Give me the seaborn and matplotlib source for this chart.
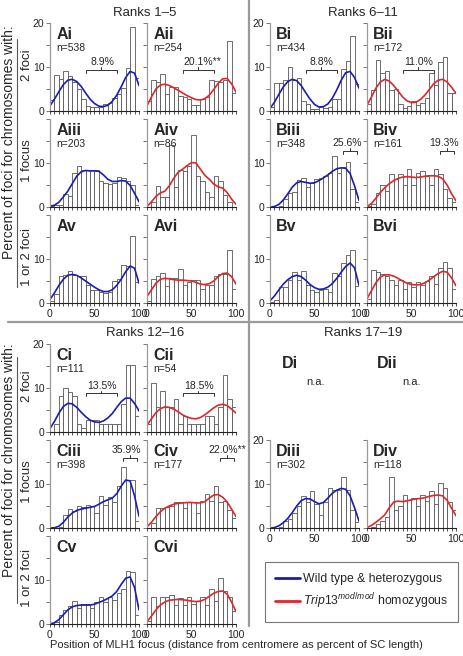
import numpy as np
import pandas as pd
import matplotlib
matplotlib.use("Agg")
import matplotlib.pyplot as plt
from matplotlib.lines import Line2D
import seaborn as sns

sns.set_style("ticks")
plt.rcParams['font.family'] = ['Liberation Sans', 'DejaVu Sans']
plt.rcParams['mathtext.fontset'] = 'custom'
plt.rcParams['mathtext.rm'] = 'Liberation Sans'
plt.rcParams['mathtext.it'] = 'Liberation Sans:italic'

# 5% bins along the SC, curve read every 5%
bin_mids = np.arange(2.5, 100, 5)
curve_x = np.arange(0, 101, 5)

# ---- Ranks 1-5 ----
ai_bars = [2.6, 8.1, 7.3, 9.0, 7.9, 6.5, 5.0, 2.8, 1.2, 0.9, 0.8, 1.0, 1.5, 1.8, 3.0, 3.8, 5.2, 9.7, 19.2, 7.4]
ai_curve = [1.2, 2.7, 4.4, 6.0, 7.0, 7.2, 6.7, 5.6, 4.1, 2.7, 1.7, 1.1, 1.0, 1.3, 2.2, 3.6, 5.5, 7.6, 9.0, 8.6, 5.8]
aii_bars = [2.3, 7.0, 6.7, 8.3, 3.8, 5.5, 5.4, 3.3, 3.2, 2.8, 1.3, 1.4, 2.7, 3.2, 7.0, 6.9, 6.6, 7.0, 15.8, 4.2]
aii_curve = [1.2, 3.2, 5.0, 5.9, 6.1, 5.8, 5.3, 4.7, 4.1, 3.5, 3.0, 2.6, 2.5, 2.8, 3.6, 4.9, 6.3, 7.3, 7.4, 6.2, 4.3]
aiii_bars = [0.3, 0.4, 0.5, 2.9, 2.5, 7.8, 9.4, 8.3, 8.3, 8.3, 8.5, 6.0, 5.5, 5.2, 5.5, 6.9, 6.6, 5.9, 5.0, 0.5]
aiii_curve = [0.2, 0.4, 1.1, 2.3, 3.6, 5.3, 7.0, 8.0, 8.3, 8.2, 8.2, 8.1, 7.3, 6.3, 5.8, 5.8, 6.0, 5.9, 4.9, 3.1, 1.2]
aiv_bars = [0.0, 1.1, 4.7, 2.2, 2.2, 14.0, 4.5, 8.3, 8.2, 9.4, 16.4, 7.0, 5.8, 3.4, 2.2, 7.0, 5.8, 2.8, 1.2, 0.1]
aiv_curve = [0.1, 1.2, 2.4, 3.2, 3.6, 4.8, 6.5, 7.9, 8.6, 9.4, 10.1, 10.0, 8.6, 7.2, 6.3, 5.2, 4.6, 4.3, 3.3, 1.8, 0.6]
av_bars = [0.5, 2.1, 6.2, 6.4, 7.3, 6.4, 6.2, 6.2, 4.2, 3.0, 3.0, 2.4, 2.3, 2.6, 4.9, 5.5, 8.7, 8.5, 15.3, 4.7]
av_curve = [0.8, 2.3, 4.0, 5.4, 6.3, 6.5, 6.3, 5.7, 5.0, 4.3, 3.6, 3.0, 2.6, 2.6, 3.0, 4.0, 5.4, 7.1, 8.4, 7.9, 4.5]
avi_bars = [0.4, 5.5, 6.2, 6.8, 3.8, 5.7, 5.7, 7.8, 4.2, 4.7, 5.2, 5.3, 3.2, 4.2, 4.2, 6.2, 6.7, 6.7, 12.1, 3.2]
avi_curve = [1.5, 3.0, 4.5, 5.4, 5.6, 5.5, 5.3, 5.2, 5.2, 5.1, 5.0, 4.7, 4.3, 4.2, 4.4, 5.0, 6.0, 6.7, 6.8, 6.0, 4.3]

# ---- Ranks 6-11 ----
bi_bars = [1.0, 6.4, 6.4, 7.0, 9.9, 7.0, 7.6, 2.3, 1.7, 0.5, 0.5, 0.9, 0.7, 0.8, 2.7, 2.7, 9.5, 11.3, 17.0, 6.2]
bi_curve = [0.6, 2.0, 3.8, 5.5, 6.7, 7.2, 6.9, 5.8, 4.2, 2.7, 1.5, 0.9, 1.0, 1.6, 2.9, 4.8, 7.0, 8.7, 9.0, 7.6, 5.2]
bii_bars = [1.7, 4.7, 11.7, 8.6, 9.1, 4.8, 5.1, 1.7, 0.6, 1.2, 2.2, 1.4, 1.8, 2.9, 8.6, 5.8, 11.1, 12.2, 4.2, 4.2]
bii_curve = [1.3, 3.2, 5.2, 6.6, 7.2, 6.8, 5.8, 4.5, 3.2, 2.3, 1.9, 2.0, 2.6, 3.6, 4.9, 6.2, 7.0, 7.2, 6.6, 5.4, 4.0]
biii_bars = [0.0, 0.0, 0.3, 1.9, 3.1, 3.4, 6.2, 6.5, 4.6, 5.4, 6.4, 6.6, 7.0, 7.8, 11.7, 7.7, 9.1, 10.3, 4.2, 1.2]
biii_curve = [0.0, 0.1, 0.6, 1.6, 3.0, 4.5, 5.5, 5.8, 5.6, 5.4, 5.5, 6.0, 6.6, 7.3, 8.1, 8.7, 8.9, 8.8, 7.6, 4.8, 1.5]
biv_bars = [0.2, 0.6, 3.1, 4.9, 3.6, 7.5, 6.4, 7.5, 5.1, 8.7, 4.9, 7.7, 8.1, 7.0, 5.1, 8.7, 7.5, 4.0, 2.0, 1.2]
biv_curve = [0.1, 0.8, 2.0, 3.3, 4.4, 5.3, 6.0, 6.5, 6.8, 6.9, 6.8, 6.7, 6.8, 7.0, 7.1, 7.1, 7.0, 6.4, 5.0, 3.0, 1.4]
bv_bars = [0.2, 0.6, 3.6, 3.6, 5.3, 7.0, 5.3, 7.2, 4.2, 3.0, 2.4, 3.0, 3.2, 2.4, 6.8, 6.2, 9.2, 10.8, 12.1, 3.9]
bv_curve = [0.5, 1.6, 3.0, 4.3, 5.3, 6.0, 6.3, 6.0, 5.2, 4.2, 3.5, 3.1, 3.2, 3.6, 4.4, 5.6, 7.0, 8.3, 9.1, 8.0, 4.0]
bvi_bars = [0.9, 7.6, 7.0, 6.7, 6.1, 5.2, 4.2, 5.2, 3.2, 4.7, 3.6, 4.7, 4.2, 5.0, 6.2, 4.3, 8.0, 9.3, 7.9, 3.2]
bvi_curve = [1.0, 2.8, 4.6, 5.9, 6.4, 6.4, 6.1, 5.6, 5.0, 4.5, 4.2, 4.1, 4.2, 4.6, 5.2, 6.0, 6.7, 7.2, 7.0, 5.7, 3.9]

# ---- Ranks 12-16 ----
ci_bars = [0.0, 1.8, 8.1, 9.9, 9.0, 8.1, 1.8, 0.9, 2.7, 2.7, 2.7, 1.8, 1.8, 1.8, 1.8, 1.8, 6.3, 15.3, 15.3, 3.6]
ci_curve = [0.8, 2.4, 4.3, 5.8, 6.5, 6.4, 5.6, 4.5, 3.5, 2.7, 2.3, 2.2, 2.5, 3.2, 4.2, 5.6, 6.9, 7.7, 7.7, 6.5, 4.8]
cii_bars = [1.8, 11.1, 5.6, 9.3, 5.6, 5.6, 7.4, 1.8, 3.7, 1.8, 1.8, 1.8, 1.8, 3.7, 3.7, 1.8, 5.6, 13.0, 7.4, 5.6]
cii_curve = [1.5, 3.0, 4.4, 5.3, 5.7, 5.6, 5.2, 4.6, 3.9, 3.4, 3.1, 3.0, 3.3, 3.9, 4.7, 5.5, 6.1, 6.3, 6.0, 5.2, 4.3]
ciii_bars = [0.0, 0.0, 0.3, 3.0, 4.4, 3.8, 5.0, 4.8, 5.2, 5.0, 3.4, 7.3, 5.2, 7.0, 6.0, 9.5, 13.8, 11.0, 11.0, 1.5]
ciii_curve = [0.0, 0.05, 0.4, 1.3, 2.5, 3.4, 4.0, 4.3, 4.5, 4.7, 4.9, 5.4, 6.0, 6.4, 6.8, 7.8, 9.5, 10.9, 10.7, 7.3, 2.7]
civ_bars = [0.0, 1.1, 4.5, 4.5, 4.8, 5.0, 6.0, 6.0, 4.5, 6.0, 6.0, 3.3, 6.2, 7.7, 6.1, 9.5, 6.0, 6.1, 4.0, 2.2]
civ_curve = [0.3, 1.3, 2.6, 3.7, 4.5, 5.0, 5.4, 5.6, 5.7, 5.8, 5.8, 5.7, 5.7, 6.0, 6.8, 7.5, 7.6, 7.0, 5.9, 4.3, 2.6]
cv_bars = [0.1, 0.4, 2.1, 3.2, 4.1, 5.3, 3.6, 4.6, 4.6, 3.6, 5.0, 6.1, 4.9, 6.1, 5.5, 7.0, 8.0, 12.1, 11.9, 2.1]
cv_curve = [0.0, 0.3, 1.0, 2.1, 3.2, 3.9, 4.2, 4.3, 4.3, 4.3, 4.5, 4.9, 5.3, 5.8, 6.4, 7.4, 9.0, 10.4, 10.7, 8.3, 3.2]
cvi_bars = [0.6, 6.1, 4.0, 6.1, 6.1, 6.6, 4.4, 5.9, 4.4, 6.1, 4.6, 5.3, 6.1, 4.4, 7.9, 5.3, 10.4, 7.4, 6.1, 3.0]
cvi_curve = [0.5, 1.8, 3.2, 4.3, 5.0, 5.4, 5.5, 5.6, 5.5, 5.4, 5.2, 5.1, 5.2, 5.6, 6.3, 7.0, 7.4, 7.5, 6.8, 5.0, 2.8]

# ---- Ranks 17-19 ----
diii_bars = [0.0, 0.0, 0.3, 1.7, 2.0, 3.4, 4.9, 7.2, 6.0, 8.5, 5.4, 3.0, 5.9, 9.2, 8.6, 8.6, 11.5, 8.6, 4.2, 1.3]
diii_curve = [0.0, 0.1, 0.5, 1.2, 2.2, 3.5, 5.0, 6.2, 6.7, 6.6, 6.0, 5.5, 5.8, 6.8, 7.9, 8.6, 9.0, 8.8, 7.3, 4.6, 1.6]
div_bars = [0.0, 0.3, 0.8, 1.7, 2.5, 11.7, 4.2, 5.1, 7.4, 6.3, 6.8, 5.1, 7.4, 6.1, 8.4, 5.4, 10.2, 9.2, 6.0, 4.0]
div_curve = [0.1, 0.6, 1.3, 2.1, 3.0, 4.6, 5.9, 6.1, 6.0, 6.2, 6.4, 6.6, 6.7, 6.9, 7.2, 7.4, 7.5, 7.3, 6.3, 4.5, 2.8]

BLUE = '#1c1cb4'
RED = '#e0262a'
W, H = 464, 656

fig = plt.figure(figsize=(W / 100, H / 100), dpi=100)


def fx(px):
    return px / W


def fy(px):
    return 1 - px / H


def draw_panel(x0, y0, bars, curve, color, label, n=None, bracket=None,
               ylab=None, xlab=False):
    """x0: left edge px, y0: px of the zero line."""
    ax = fig.add_axes([fx(x0), fy(y0), 89 / W, 88 / H])
    hist_df = pd.DataFrame({'pos': bin_mids, 'pct': bars})
    curve_df = pd.DataFrame({'pos': curve_x, 'pct': curve})
    sns.histplot(data=hist_df, x='pos', weights='pct', binwidth=5, binrange=(0, 100),
                 stat='count', color='white', edgecolor='#555555', linewidth=0.6,
                 alpha=1, ax=ax)
    sns.lineplot(data=curve_df, x='pos', y='pct', color=color, linewidth=1.2, ax=ax)
    ax.set_xlim(0, 100)
    ax.set_ylim(0, 20)
    ax.set_xlabel('')
    ax.set_ylabel('')
    sns.despine(ax=ax)
    ax.spines['left'].set_color('#9a9a9a')
    ax.spines['left'].set_linewidth(0.9)
    ax.spines['bottom'].set_color('#222222')
    ax.spines['bottom'].set_linewidth(0.8)

    ax.set_yticks([0, 5, 10, 15, 20])
    ax.set_yticklabels(ylab if ylab else [''] * 5)
    ax.set_xticks(np.arange(0, 101, 5))
    ax.set_xticklabels(['0' if t == 0 else '50' if t == 50 else '100' if t == 100 else ''
                        for t in range(0, 101, 5)] if xlab else [''] * 21)
    ax.tick_params(axis='y', length=3, width=0.7, color='#777777', pad=1,
                   labelsize=7.5, labelcolor='#222222')
    ax.tick_params(axis='x', length=2.5, width=0.6, color='#333333', pad=1.5,
                   labelsize=7.5, labelcolor='#222222')

    ax.text(0.07, 0.95, label, transform=ax.transAxes, fontsize=11.5,
            fontweight='bold', va='top', ha='left')
    if n is not None:
        ax.text(0.07, 0.77, n, transform=ax.transAxes, fontsize=7.5,
                va='top', ha='left')
    if bracket is not None:
        b0, b1, by, btxt, tx = bracket
        ax.plot([b0, b0, b1, b1], [by - 0.7, by, by, by - 0.7], color='#333333',
                lw=0.7, clip_on=False)
        ax.plot([(b0 + b1) / 2] * 2, [by, by + 0.6], color='#333333', lw=0.7,
                clip_on=False)
        ax.text(tx, by + 0.5, btxt, fontsize=7.5, ha='center', va='bottom',
                clip_on=False)
    return ax


top_lab = ['0', '', '10', '', '20']
mid_lab = ['0', '', '10', '', '']

AL, AR, BL, BR = 50, 147, 270, 367
R1, R2, R3 = 111, 207, 303
S1, S2, S3 = 432, 528, 624

draw_panel(AL, R1, ai_bars, ai_curve, BLUE, 'Ai', 'n=538', (40, 75, 9.4, '8.9%', 59), top_lab)
draw_panel(AR, R1, aii_bars, aii_curve, RED, 'Aii', 'n=254', (40, 75, 9.4, '20.1%**', 62))
draw_panel(AL, R2, aiii_bars, aiii_curve, BLUE, 'Aiii', 'n=203', None, mid_lab)
draw_panel(AR, R2, aiv_bars, aiv_curve, RED, 'Aiv', 'n=86')
draw_panel(AL, R3, av_bars, av_curve, BLUE, 'Av', None, None, mid_lab, True)
draw_panel(AR, R3, avi_bars, avi_curve, RED, 'Avi', None, None, None, True)

draw_panel(BL, R1, bi_bars, bi_curve, BLUE, 'Bi', 'n=434', (40, 75, 9.4, '8.8%', 58), top_lab)
draw_panel(BR, R1, bii_bars, bii_curve, RED, 'Bii', 'n=172', (40, 75, 9.4, '11.0%', 58))
draw_panel(BL, R2, biii_bars, biii_curve, BLUE, 'Biii', 'n=348', (82, 98, 12.8, '25.6%', 87), mid_lab)
draw_panel(BR, R2, biv_bars, biv_curve, RED, 'Biv', 'n=161', (82, 98, 12.8, '19.3%', 87))
draw_panel(BL, R3, bv_bars, bv_curve, BLUE, 'Bv', None, None, mid_lab, True)
draw_panel(BR, R3, bvi_bars, bvi_curve, RED, 'Bvi', None, None, None, True)

draw_panel(AL, S1, ci_bars, ci_curve, BLUE, 'Ci', 'n=111', (40, 75, 8.8, '13.5%', 58), top_lab)
draw_panel(AR, S1, cii_bars, cii_curve, RED, 'Cii', 'n=54', (40, 75, 8.8, '18.5%', 58))
draw_panel(AL, S2, ciii_bars, ciii_curve, BLUE, 'Ciii', 'n=398', (82, 98, 16.0, '35.9%', 86), mid_lab)
draw_panel(AR, S2, civ_bars, civ_curve, RED, 'Civ', 'n=177', (82, 98, 16.0, '22.0%**', 90))
draw_panel(AL, S3, cv_bars, cv_curve, BLUE, 'Cv', None, None, mid_lab, True)
draw_panel(AR, S3, cvi_bars, cvi_curve, RED, 'Cvi', None, None, None, True)

draw_panel(BL, S2, diii_bars, diii_curve, BLUE, 'Diii', 'n=302', None, top_lab, True)
draw_panel(BR, S2, div_bars, div_curve, RED, 'Div', 'n=118', None, None, True)

# Di / Dii have no data
for lx, nx, lab in [(282, 316, 'Di'), (377, 412, 'Dii')]:
    fig.text(fx(lx), fy(356), lab, fontsize=11.5, fontweight='bold', va='top', ha='left')
    fig.text(fx(nx), fy(382), 'n.a.', fontsize=8, va='center', ha='center')

# group titles
fig.text(fx(145), fy(13), 'Ranks 1\u20135', fontsize=9.5, ha='center', va='center')
fig.text(fx(363), fy(13), 'Ranks 6\u201311', fontsize=9.5, ha='center', va='center')
fig.text(fx(145), fy(333), 'Ranks 12\u201316', fontsize=9.5, ha='center', va='center')
fig.text(fx(363), fy(333), 'Ranks 17\u201319', fontsize=9.5, ha='center', va='center')

# dividers
fig.add_artist(Line2D([fx(249)] * 2, [1, fy(626)], color='#9a9a9a', lw=1.6))
fig.add_artist(Line2D([fx(8), 1], [fy(322)] * 2, color='#9a9a9a', lw=1.6))

# y labels
for yc, ya, yb, rows in [(142, 39, 287, (R1, R2, R3)), (460, 357, 603, (S1, S2, S3))]:
    fig.text(fx(9), fy(yc), 'Percent of foci for chromosomes with:', rotation=90,
             fontsize=10, ha='center', va='center')
    fig.add_artist(Line2D([fx(17)] * 2, [fy(ya), fy(yb)], color='#555555', lw=0.8))
    for r, txt in zip(rows, ['2 foci', '1 focus', '1 or 2 foci']):
        fig.text(fx(27), fy(r - 46), txt, rotation=90, fontsize=9.5,
                 ha='center', va='center')

fig.text(fx(236), fy(645), 'Position of MLH1 focus (distance from centromere as percent of SC length)',
         fontsize=8, ha='center', va='center')

handles = [Line2D([], [], color=BLUE, lw=2), Line2D([], [], color=RED, lw=2)]
labels = ['Wild type & heterozygous', r'$\it{Trip13}^{\it{mod/mod}}$ homozygous']
leg = fig.legend(handles, labels, loc='center', bbox_to_anchor=(fx(361.5), fy(592)),
                 frameon=True, fancybox=False, fontsize=8.8, handlelength=2.0,
                 handletextpad=0.25, labelspacing=0.55, borderpad=0.85,
                 borderaxespad=0)
leg.get_frame().set_edgecolor('#555555')
leg.get_frame().set_linewidth(0.8)

fig.savefig('out.png', dpi=100)
